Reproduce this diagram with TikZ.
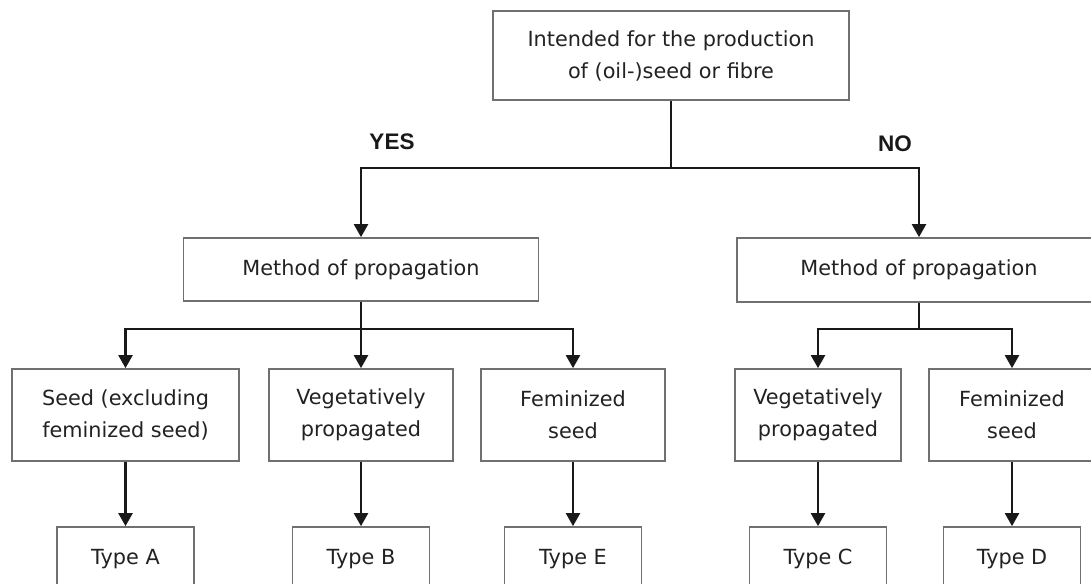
\documentclass[tikz,border=0pt]{standalone}
\usepackage{fontspec}
\setmainfont{DejaVu Sans}
\newfontfamily\labelfont{Liberation Sans}
\usetikzlibrary{arrows.meta}
\definecolor{boxline}{HTML}{707070}
\definecolor{txt}{HTML}{222222}
\begin{document}
\begin{tikzpicture}[x=1pt,y=-1pt,
  box/.style={draw=boxline, line width=1.7pt, fill=white, align=center, text=txt,
    inner sep=0pt, font=\fontsize{20.8}{32}\selectfont},
  conn/.style={line width=2.2pt, draw=black!90},
  arr/.style={conn, -{Triangle[width=14pt,length=13pt]}},
  yn/.style={font=\labelfont\bfseries\fontsize{22.5}{26}\selectfont, text=black!90}]
\fill[white] (0,0) rectangle (1091,583);
\useasboundingbox (0,0) rectangle (1091,583);

\node[box, minimum width=356pt, minimum height=89pt] (top) at (671,55.5)
  {Intended for the production\\of (oil-)seed or fibre};

\node[box, minimum width=355pt, minimum height=63pt] (mL) at (361,269.5) {Method of propagation};
\node[box, minimum width=364pt, minimum height=64pt] (mR) at (919,270) {Method of propagation};

\node[box, minimum width=227pt, minimum height=92pt] (seed) at (125.5,415) {Seed (excluding\\feminized seed)};
\node[box, minimum width=184pt, minimum height=92pt] (vegL) at (361,415) {Vegetatively\\propagated};
\node[box, minimum width=184pt, minimum height=92pt] (femL) at (573,415) {Feminized\\seed};
\node[box, minimum width=166pt, minimum height=92pt] (vegR) at (818,415) {Vegetatively\\propagated};
\node[box, minimum width=166pt, minimum height=92pt] (femR) at (1012,415) {Feminized\\seed};

\node[box, minimum width=137pt, minimum height=64pt] (tA) at (125.5,559) {Type A};
\node[box, minimum width=137pt, minimum height=64pt] (tB) at (361,559) {Type B};
\node[box, minimum width=137pt, minimum height=64pt] (tE) at (573,559) {Type E};
\node[box, minimum width=137pt, minimum height=64pt] (tC) at (818,559) {Type C};
\node[box, minimum width=137pt, minimum height=64pt] (tD) at (1012,559) {Type D};

\node[yn] (yes) at (392,142) {YES};
\node[yn] (no) at (895,144) {NO};

\coordinate (j1) at (671,168);
\coordinate (j2) at (361,329);
\coordinate (j3) at (919,329);

\draw[conn] (top.south) -- (j1);
\draw[arr] (j1) -| (mL.north);
\draw[arr] (j1) -| (mR.north);

\draw[conn] (mL.south) -- (j2);
\draw[arr] (j2) -| (seed.north);
\draw[arr] (j2) -- (vegL.north);
\draw[arr] (j2) -| (femL.north);

\draw[conn] (mR.south) -- (j3);
\draw[arr] (j3) -| (vegR.north);
\draw[arr] (j3) -| (femR.north);

\draw[arr] (seed.south) -- (tA.north);
\draw[arr] (vegL.south) -- (tB.north);
\draw[arr] (femL.south) -- (tE.north);
\draw[arr] (vegR.south) -- (tC.north);
\draw[arr] (femR.south) -- (tD.north);
\end{tikzpicture}
\end{document}
